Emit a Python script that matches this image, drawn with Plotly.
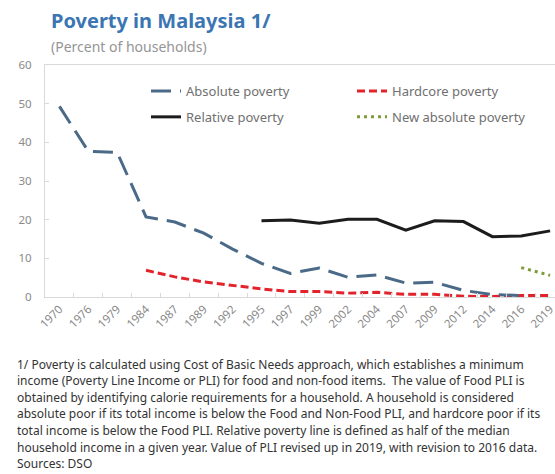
import plotly.graph_objects as go

# Survey years (category axis)
years = ["1970", "1976", "1979", "1984", "1987", "1989", "1992", "1995", "1997",
         "1999", "2002", "2004", "2007", "2009", "2012", "2014", "2016", "2019"]

# Incidence of poverty, percent of households
absolute_poverty = [49.3, 37.7, 37.4, 20.7, 19.4, 16.5, 12.4, 8.7, 6.1,
                    7.5, 5.1, 5.7, 3.6, 3.8, 1.7, 0.6, 0.4, None]
hardcore_poverty = [None, None, None, 6.9, 5.2, 3.9, 3.0, 2.1, 1.4,
                    1.4, 1.0, 1.2, 0.7, 0.7, 0.2, 0.1, 0.4, 0.4]
relative_poverty = [None, None, None, None, None, None, None, 19.7, 19.9,
                    19.1, 20.1, 20.1, 17.3, 19.7, 19.5, 15.6, 15.8, 17.1]
new_absolute_poverty = [None] * 16 + [7.6, 5.6]

y_ticks = [0, 10, 20, 30, 40, 50, 60]

footnote_lines = [
    "1/ Poverty is calculated using Cost of Basic Needs approach, which establishes a minimum",
    "income (Poverty Line Income or PLI) for food and non-food items.  The value of Food PLI is",
    "obtained by identifying calorie requirements for a household. A household is considered",
    "absolute poor if its total income is below the Food and Non-Food PLI, and hardcore poor if its",
    "total income is below the Food PLI. Relative poverty line is defined as half of the median",
    "household income in a given year. Value of PLI revised up in 2019, with revision to 2016 data.",
    "Sources: DSO",
]

W, H = 555, 474
M_L, M_R, M_T, M_B = 45, 0, 65, 177
PLOT_W = W - M_L - M_R
PLOT_H = H - M_T - M_B
FONT = "Noto Sans"


def px_x(px):
    return (px - M_L) / PLOT_W


def px_y(py):
    return (H - M_B - py) / PLOT_H


fig = go.Figure()

fig.add_trace(go.Scatter(
    x=years, y=hardcore_poverty, name="Hardcore poverty", mode="lines",
    line=dict(color="#e3232c", width=3, dash="8px,4px"),
    legend="legend2", legendgroup="hc"))
fig.add_trace(go.Scatter(
    x=years, y=absolute_poverty, name="Absolute poverty", mode="lines",
    line=dict(color="#4b6a88", width=3, dash="20px,9px"),
    legend="legend", legendgroup="abs"))
fig.add_trace(go.Scatter(
    x=years, y=relative_poverty, name="Relative poverty", mode="lines",
    line=dict(color="#1c1c1c", width=3),
    legend="legend", legendgroup="rel"))
fig.add_trace(go.Scatter(
    x=years, y=new_absolute_poverty, name="New absolute poverty", mode="lines",
    line=dict(color="#7d9a3c", width=3, dash="3px,4px"),
    legend="legend2", legendgroup="new"))

legend_style = dict(
    orientation="v", xanchor="left", yanchor="middle",
    bgcolor="rgba(0,0,0,0)", borderwidth=0,
    font=dict(family=FONT, size=13, color="#707070"),
    tracegroupgap=6, itemwidth=30,
)

annotations = [
    dict(text="<b>Poverty in Malaysia 1/</b>", x=px_x(49), y=px_y(21),
         xref="paper", yref="paper", xanchor="left", yanchor="middle",
         showarrow=False, font=dict(family=FONT, size=20, color="#3b76b3")),
    dict(text="(Percent of households)", x=px_x(49), y=px_y(46),
         xref="paper", yref="paper", xanchor="left", yanchor="middle",
         showarrow=False, font=dict(family=FONT, size=14, color="#959595")),
]
for i, line in enumerate(footnote_lines):
    annotations.append(dict(
        text=line, x=px_x(15), y=px_y(364 + i * 16.6),
        xref="paper", yref="paper", xanchor="left", yanchor="middle",
        showarrow=False, font=dict(family=FONT, size=12, color="#333333")))

fig.update_layout(
    width=W, height=H,
    margin=dict(l=M_L, r=M_R, t=M_T, b=M_B, pad=0),
    paper_bgcolor="white", plot_bgcolor="white",
    font=dict(family=FONT),
    legend=dict(x=px_x(146), y=px_y(104), **legend_style),
    legend2=dict(x=px_x(352), y=px_y(104), **legend_style),
    annotations=annotations,
    xaxis=dict(
        type="category", categoryorder="array", categoryarray=years,
        range=[-0.5, 17.17], showgrid=False, zeroline=False,
        showline=True, linecolor="#d9d9d9", linewidth=1, mirror=True,
        ticks="inside", ticklen=4, tickcolor="#d9d9d9", tickson="boundaries",
        tickangle=-45, tickfont=dict(family=FONT, size=11.5, color="#8a8a8a"),
    ),
    yaxis=dict(
        range=[0, 60], tickvals=y_ticks, showgrid=False, zeroline=False,
        showline=True, linecolor="#d9d9d9", linewidth=1,
        ticks="inside", ticklen=4, tickcolor="#d9d9d9",
        ticklabelstandoff=10,
        tickfont=dict(family=FONT, size=11.5, color="#8a8a8a"),
    ),
)

fig.write_html("out.html")
